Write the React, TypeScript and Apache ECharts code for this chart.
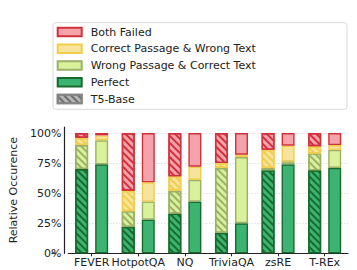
import React, { useEffect, useRef } from "react";
import * as echarts from "echarts";

const categories = ["FEVER", "HotpotQA", "NQ", "TriviaQA", "zsRE", "T-REx"];

// T5-Base (hatched)
const t5Perfect = [70, 22, 33, 17, 69, 69];
const t5WrongPassage = [20, 13, 19, 54, 2, 14];
const t5CorrectPassage = [6, 17, 12, 4, 15, 6];
const t5BothFailed = [4, 48, 36, 25, 14, 11];

// Solid model
const perfect = [74, 28, 43, 25, 74, 71];
const wrongPassage = [20, 15, 18, 55, 2.5, 15];
const correctPassage = [4, 16, 11, 2, 13, 4];
const bothFailed = [2, 41, 28, 18, 10.5, 10];

const yTicks = [0, 25, 50, 75, 100];

const legendNames = [
  "Both Failed",
  "Correct Passage & Wrong Text",
  "Wrong Passage & Correct Text",
  "Perfect",
  "T5-Base",
];

const FONT = "DejaVu Sans";

const styles: Record<string, { fill: string; edge: string }> = {
  "Both Failed": { fill: "#f5a3aa", edge: "#d1313d" },
  "Correct Passage & Wrong Text": { fill: "#f7e49c", edge: "#f0cd4a" },
  "Wrong Passage & Correct Text": { fill: "#d9f19b", edge: "#9cb066" },
  Perfect: { fill: "#3cb371", edge: "#176b2c" },
  "T5-Base": { fill: "#b5b5b5", edge: "#858585" },
};

const hatch = (color: string) => ({
  symbol: "rect",
  symbolSize: 1,
  color,
  dashArrayX: [1, 0],
  dashArrayY: [1.2, 2.6],
  rotation: Math.PI / 4,
});

export default function App() {
  const ref = useRef<HTMLDivElement>(null);
  useEffect(() => {
    if (!ref.current) return;
    const chart = echarts.init(ref.current, undefined, { renderer: "svg" });

    const gridLeft = 56;
    const gridRight = 9;
    const gridTop = 127;
    const gridBottom = 16.7;
    const axisY = 270 - gridBottom;

    const mk = (name: string, key: string, data: number[], isT5: boolean) => {
      const s = styles[key];
      return {
        type: "bar",
        name,
        stack: isT5 ? "t5" : "ours",
        data,
        barWidth: 13,
        barGap: "54%",
        itemStyle: {
          color: s.fill,
          borderColor: s.edge,
          borderWidth: 1.4,
          decal: isT5 ? hatch(s.edge) : undefined,
        },
        emphasis: { disabled: true },
      };
    };

    const series: any[] = [
      mk("T5 Perfect", "Perfect", t5Perfect, true),
      mk("T5 Wrong Passage", "Wrong Passage & Correct Text", t5WrongPassage, true),
      mk("T5 Correct Passage", "Correct Passage & Wrong Text", t5CorrectPassage, true),
      mk("T5 Both Failed", "Both Failed", t5BothFailed, true),
      mk("Perfect", "Perfect", perfect, false),
      mk("Wrong Passage & Correct Text", "Wrong Passage & Correct Text", wrongPassage, false),
      mk("Correct Passage & Wrong Text", "Correct Passage & Wrong Text", correctPassage, false),
      mk("Both Failed", "Both Failed", bothFailed, false),
      {
        type: "bar",
        name: "T5-Base",
        stack: "t5",
        data: [],
        barWidth: 13,
        itemStyle: {
          color: styles["T5-Base"].fill,
          borderColor: styles["T5-Base"].edge,
          borderWidth: 1.4,
          decal: hatch("#6e6e6e"),
        },
      },
    ];

    chart.setOption({
      animation: false,
      backgroundColor: "#fff",
      textStyle: { fontFamily: FONT },
      grid: { left: gridLeft, right: gridRight, top: gridTop, bottom: gridBottom },
      graphic: [
        {
          type: "rect",
          z: 0,
          shape: { x: 53, y: 22.7, width: 294, height: 86.6, r: 3 },
          style: { fill: "#fff", stroke: "#d9d9d9", lineWidth: 1 },
        },
        {
          type: "line",
          z: 10,
          shape: { x1: 51.5, y1: axisY, x2: gridLeft, y2: axisY },
          style: { stroke: "#222", lineWidth: 1.2 },
        },
      ],
      legend: {
        orient: "vertical",
        left: 56.7,
        top: 26,
        padding: 0,
        itemWidth: 24,
        itemHeight: 8.5,
        itemGap: 4.75,
        icon: "rect",
        data: legendNames,
        selectedMode: false,
        textStyle: {
          fontFamily: FONT,
          fontSize: 11,
          color: "#222",
          lineHeight: 12,
          padding: [0, 0, 0, 4],
        },
        z: 5,
      },
      xAxis: {
        type: "category",
        data: categories,
        axisLine: { lineStyle: { color: "#222", width: 1.2 } },
        axisTick: { show: true, alignWithLabel: true, length: 3, lineStyle: { color: "#222" } },
        axisLabel: { fontFamily: FONT, fontSize: 11, color: "#222", margin: 4, interval: 0 },
      },
      yAxis: {
        type: "value",
        min: 0,
        max: 105,
        interval: 25,
        offset: 4,
        name: "Relative Occurence",
        nameLocation: "middle",
        nameGap: 42,
        nameTextStyle: { fontFamily: FONT, fontSize: 11, color: "#222" },
        axisLine: { show: true, lineStyle: { color: "#222", width: 1.2 } },
        axisTick: { show: false },
        axisLabel: {
          fontFamily: FONT,
          fontSize: 11,
          color: "#222",
          margin: 3,
          showMaxLabel: false,
          formatter: (v: number) => (yTicks.includes(v) ? v + "%" : ""),
        },
        splitLine: {
          show: true,
          showMaxLine: false,
          lineStyle: { color: "#c8c8c8", type: [1, 2], width: 0.8 },
        },
      },
      series,
    });

    return () => chart.dispose();
  }, []);

  return (
    <div
      ref={ref}
      style={{ position: "fixed", left: 0, top: 0, width: 357, height: 270 }}
    />
  );
}
